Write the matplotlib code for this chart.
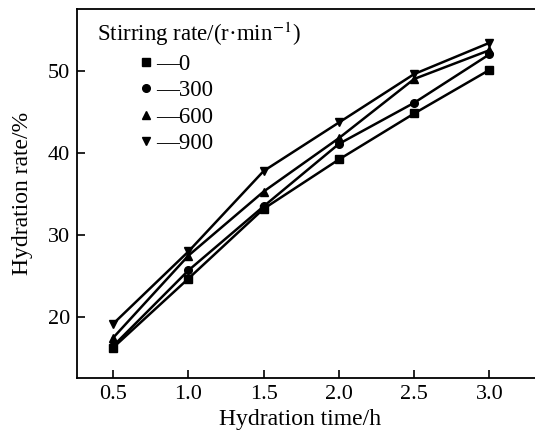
import matplotlib
matplotlib.use('Agg')
import matplotlib.pyplot as plt
from matplotlib.lines import Line2D

plt.rcParams['font.family'] = ['Liberation Serif', 'DejaVu Serif']
plt.rcParams['mathtext.fontset'] = 'stix'

hydration_time = [0.5, 1.0, 1.5, 2.0, 2.5, 3.0]
stirring_rates = ['0', '300', '600', '900']
rate_0 = [16.3, 24.7, 33.2, 39.2, 44.8, 50.1]
rate_300 = [16.5, 25.7, 33.5, 41.1, 46.1, 52.0]
rate_600 = [17.5, 27.5, 35.3, 41.8, 49.0, 52.5]
rate_900 = [19.2, 28.0, 37.8, 43.7, 49.6, 53.4]
x_ticks = [0.5, 1.0, 1.5, 2.0, 2.5, 3.0]
y_ticks = [20, 30, 40, 50]

series = [rate_0, rate_300, rate_600, rate_900]
markers = ['s', 'o', '^', 'v']
msizes = [5.5, 5.5, 6.2, 6.2]

fig = plt.figure(figsize=(5.35, 4.34), dpi=100)
ax = fig.add_axes([0.144, 0.129, 0.875, 0.85])

for vals, mk, ms in zip(series, markers, msizes):
    ax.plot(hydration_time, vals, color='black', linewidth=1.8,
            marker=mk, markersize=ms)

ax.set_xlim(0.26, 3.37)
ax.set_ylim(12.6, 57.5)
ax.set_xticks(x_ticks)
ax.set_xticklabels(['%.1f' % t for t in x_ticks])
ax.set_yticks(y_ticks)
ax.tick_params(direction='in', length=6, width=1.2, labelsize=16, pad=5)
for s in ax.spines.values():
    s.set_linewidth(1.3)
ax.spines['right'].set_visible(False)  # cut off at the image edge

ax.set_xlabel('Hydration time/h', fontsize=17)
ax.xaxis.set_label_coords(0.477, -0.085, transform=ax.transAxes)
ax.xaxis.label.set_va('top')
ax.set_ylabel('Hydration rate/%', fontsize=17, labelpad=11)

# legend title and entries (entries indented under the title)
ax.text(0.043, 0.934, 'Stirring rate/(r\u00b7min$^{-1}$)', transform=ax.transAxes,
        fontsize=16.5, ha='left', va='center')
handles = [Line2D([], [], linestyle='none', color='black', marker=mk, markersize=ms)
           for mk, ms in zip(markers, msizes)]
labels = ['\u2014' + r for r in stirring_rates]
leg = ax.legend(handles, labels, loc='upper left', frameon=False,
                fontsize=16.5, handlelength=0.6, handletextpad=0.15,
                labelspacing=0.24, borderaxespad=0, borderpad=0,
                bbox_to_anchor=(0.133, 0.879))

fig.savefig('out.png', dpi=100)
plt.close(fig)
